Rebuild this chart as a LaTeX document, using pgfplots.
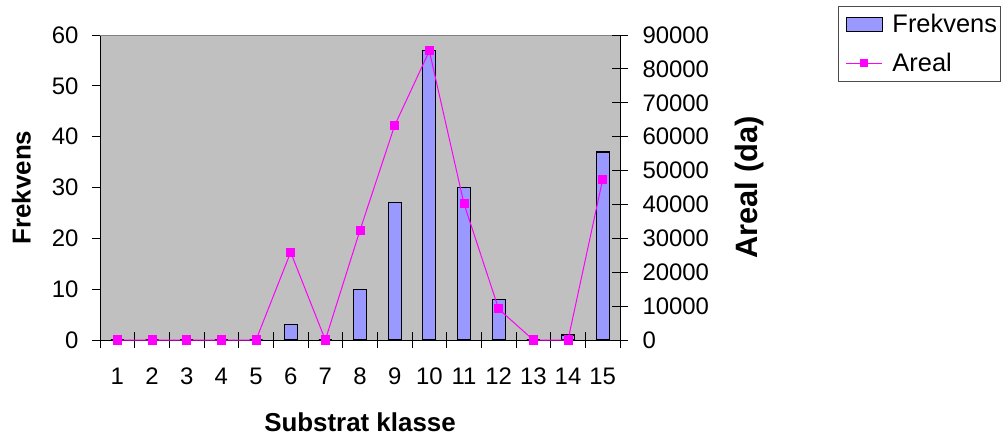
\documentclass[border=0pt]{standalone}
\usepackage{fontspec}
\setmainfont{Liberation Sans}
\usepackage{pgfplots}
\pgfplotsset{compat=1.18}
\definecolor{barblue}{HTML}{9999FF}
\definecolor{plotbg}{HTML}{C0C0C0}
\definecolor{mag}{HTML}{FF00FF}
\begin{document}
\begin{tikzpicture}
\useasboundingbox (0,0) rectangle (1001bp,439bp);
% Left axis: Frekvens (bars)
\begin{axis}[
  at={(100bp,99bp)}, anchor=south west,
  width=520bp, height=305bp, scale only axis,
  xmin=0.5, xmax=15.5, ymin=0, ymax=60,
  axis x line=none, axis y line*=left,
  axis background/.style={fill=plotbg},
  ytick={0,10,...,60},
  tick align=outside, major tick length=8bp,
  tick style={black, line width=0.8bp},
  axis line style={black, line width=0.8bp},
  /pgf/number format/assume math mode=true,
  yticklabel style={font=\fontsize{24}{28}\selectfont, anchor=east, xshift=-10bp},
  ylabel={Frekvens},
  ylabel style={font=\fontsize{26}{30}\selectfont\bfseries, at={(axis description cs:-0.151,0.5)}, anchor=center},
  ybar, bar width=13bp,
]
\addplot[fill=barblue, draw=black, line width=1.2bp] coordinates {
(1,0) (2,0) (3,0) (4,0) (5,0) (6,3) (7,0) (8,10) (9,27) (10,57) (11,30) (12,8) (13,0) (14,1) (15,37)};
\draw[gray, line width=0.8bp] (rel axis cs:0,1) -- (rel axis cs:1,1);
\end{axis}
% Right axis: Areal (line) + x axis
\begin{axis}[
  at={(100bp,99bp)}, anchor=south west,
  width=520bp, height=305bp, scale only axis,
  xmin=0.5, xmax=15.5, ymin=0, ymax=90000,
  axis x line*=bottom, axis y line*=right,
  clip=false,
  xtick={0.5,1.5,...,15.5},
  xticklabels={1,2,3,4,5,6,7,8,9,10,11,12,13,14,15,{}},
  ytick={0,10000,...,90000},
  scaled y ticks=false,
  /pgf/number format/set thousands separator={},
  /pgf/number format/assume math mode=true,
  tick align=center, major tick length=16bp,
  tick style={black, line width=0.8bp},
  axis line style={black, line width=0.8bp},
  xticklabel style={font=\fontsize{24}{28}\selectfont, xshift=17.333bp, anchor=center, yshift=-28bp},
  yticklabel style={font=\fontsize{24}{28}\selectfont, anchor=west, xshift=11bp},
  xlabel={Substrat klasse},
  xlabel style={font=\fontsize{26}{30}\selectfont\bfseries, at={(axis description cs:0.5,-0.269)}, anchor=center},
  ylabel={Areal (da)},
  ylabel style={font=\fontsize{31}{36}\selectfont\bfseries, at={(axis description cs:1.25,0.5)}, anchor=center},
  legend style={at={(1.4192,1.0951)}, anchor=north west, draw=black!70, line width=1bp, fill=white,
    font=\fontsize{25.5}{30}\selectfont, row sep=15bp, inner xsep=2bp, inner ysep=6bp},
  legend cell align=left,
]
\addlegendimage{legend image code/.code={\path[draw=none,fill=none] (-6bp,0bp) -- (44bp,0bp); \draw[fill=barblue,draw=black,line width=1.2bp] (0bp,-7bp) rectangle (36bp,7bp);}}
\addlegendentry{Frekvens}
\addplot[mag, line width=1bp, mark=square*, mark size=4bp, mark options={fill=mag, draw=mag},
  legend image code/.code={\path[draw=none,fill=none] (-6bp,0bp) -- (44bp,0bp); \draw[mag, line width=1bp] (0bp,0bp) -- (36bp,0bp); \fill[mag] (14.5bp,-3.5bp) rectangle (21.5bp,3.5bp);}]
 coordinates {
(1,0) (2,0) (3,0) (4,0) (5,0) (6,25900) (7,0) (8,32400) (9,63300) (10,85300) (11,40200) (12,9150) (13,0) (14,0) (15,47400)};
\addlegendentry{Areal}
\end{axis}
\end{tikzpicture}
\end{document}
